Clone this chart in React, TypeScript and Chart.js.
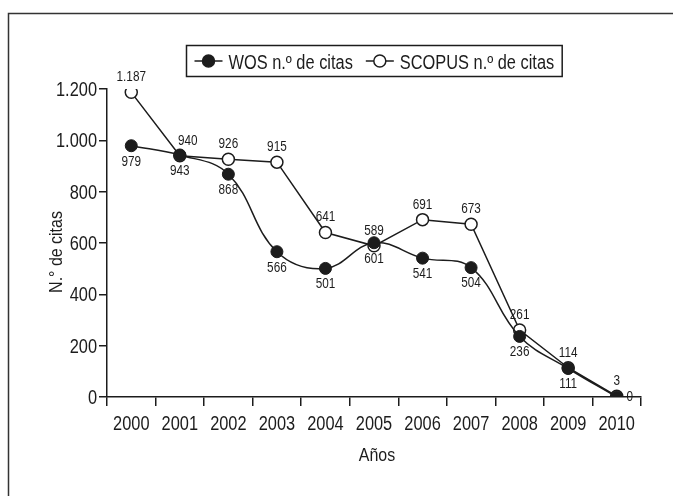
import React, { useEffect, useRef } from 'react';
import { Chart, registerables } from 'chart.js';

Chart.register(...registerables);

const years = ['2000', '2001', '2002', '2003', '2004', '2005', '2006', '2007', '2008', '2009', '2010'];
const wosCitations = [979, 943, 868, 566, 501, 601, 541, 504, 236, 111, 0];
const scopusCitations = [1187, 940, 926, 915, 641, 589, 691, 673, 261, 114, 3];
const yTickValues = [0, 200, 400, 600, 800, 1000, 1200];
const seriesNames = ['WOS n.º de citas', 'SCOPUS n.º de citas'];
const xTitle = 'Años';
const yTitle = 'N.° de citas';

const SANS = '"Liberation Sans", Arial, Helvetica, sans-serif';
const NARROW = 0.84;
const INK = '#1c1c1c';

const fmt = (v: number) => String(v).replace(/\B(?=(\d{3})+(?!\d))/g, '.');

function narrowText(
  ctx: CanvasRenderingContext2D,
  text: string,
  x: number,
  y: number,
  size: number,
  align: CanvasTextAlign,
  baseline: CanvasTextBaseline = 'alphabetic',
  rotate = 0
) {
  ctx.save();
  ctx.translate(x, y);
  if (rotate) ctx.rotate(rotate);
  ctx.scale(NARROW, 1);
  ctx.font = `${size}px ${SANS}`;
  ctx.fillStyle = INK;
  ctx.textAlign = align;
  ctx.textBaseline = baseline;
  ctx.fillText(text, 0, 0);
  ctx.restore();
}

function narrowWidth(ctx: CanvasRenderingContext2D, text: string, size: number) {
  ctx.save();
  ctx.font = `${size}px ${SANS}`;
  const w = ctx.measureText(text).width * NARROW;
  ctx.restore();
  return w;
}

const framePlugin = {
  id: 'frame',
  beforeDraw(chart: any) {
    const ctx = chart.ctx;
    ctx.save();
    ctx.fillStyle = '#ffffff';
    ctx.fillRect(0, 0, chart.width, chart.height);
    ctx.strokeStyle = '#333333';
    ctx.lineWidth = 1.5;
    ctx.beginPath();
    ctx.moveTo(8.5, chart.height + 5);
    ctx.lineTo(8.5, 13.5);
    ctx.lineTo(chart.width + 5, 13.5);
    ctx.stroke();
    ctx.restore();
  },
};

const axisTextPlugin = {
  id: 'axisText',
  afterDraw(chart: any) {
    const ctx = chart.ctx;
    const xs = chart.scales.x;
    const ys = chart.scales.y;
    const area = chart.chartArea;
    xs.ticks.forEach((_t: any, i: number) => {
      narrowText(ctx, String(chart.data.labels[i]), xs.getPixelForTick(i), area.bottom + 33, 19.5, 'center');
    });
    ys.ticks.forEach((t: any) => {
      const y = ys.getPixelForValue(t.value);
      narrowText(ctx, fmt(t.value), area.left - 10, y + 7, 19.5, 'right');
    });
    narrowText(ctx, xTitle, (area.left + area.right) / 2 + 3, 461, 19, 'center');
    narrowText(ctx, yTitle, 57, 252, 19, 'center', 'middle', -Math.PI / 2);
  },
};

const legendPlugin = {
  id: 'boxLegend',
  afterDraw(chart: any) {
    const ctx = chart.ctx;
    const area = chart.chartArea;
    const size = 19.5;
    const w1 = narrowWidth(ctx, seriesNames[0], size);
    const w2 = narrowWidth(ctx, seriesNames[1], size);
    const pad = 8, sym = 28, gap = 6, between = 13;
    const boxW = pad + sym + gap + w1 + between + sym + gap + w2 + pad;
    const boxH = 31;
    const cx = (area.left + area.right) / 2;
    const bx = Math.round(cx - boxW / 2) + 0.5;
    const by = 45.5;
    ctx.save();
    ctx.strokeStyle = INK;
    ctx.lineWidth = 1.5;
    ctx.strokeRect(bx, by, boxW, boxH);
    const cy = by + boxH / 2;
    const drawSym = (x: number, filled: boolean) => {
      ctx.beginPath();
      ctx.moveTo(x, cy);
      ctx.lineTo(x + sym, cy);
      ctx.lineWidth = 1.5;
      ctx.strokeStyle = INK;
      ctx.stroke();
      ctx.beginPath();
      ctx.arc(x + sym / 2, cy, 6, 0, Math.PI * 2);
      ctx.fillStyle = filled ? INK : '#ffffff';
      ctx.fill();
      ctx.stroke();
    };
    let x = bx + pad;
    drawSym(x, true);
    x += sym + gap;
    narrowText(ctx, seriesNames[0], x, 69, size, 'left');
    x += w1 + between;
    drawSym(x, false);
    x += sym + gap;
    narrowText(ctx, seriesNames[1], x, 69, size, 'left');
    ctx.restore();
  },
};

const labelPlugin = {
  id: 'pointLabels',
  afterDatasetsDraw(chart: any) {
    const ctx = chart.ctx;
    chart.data.datasets.forEach((ds: any, di: number) => {
      const meta = chart.getDatasetMeta(di);
      meta.data.forEach((pt: any, i: number) => {
        const v = ds.data[i] as number;
        let x = pt.x;
        let y = pt.y;
        if (di === 0) {
          if (i === ds.data.length - 1) {
            x += 13;
            y += 0;
          } else {
            y += 16;
          }
        } else {
          y -= 15;
          if (i === 1) x += 8;
        }
        narrowText(ctx, fmt(v), x, y, 14, 'center', 'middle');
      });
    });
  },
};

export default function App() {
  const ref = useRef<HTMLCanvasElement | null>(null);
  useEffect(() => {
    if (!ref.current) return;
    const chart = new Chart(ref.current, {
      type: 'line',
      data: {
        labels: years,
        datasets: [
          {
            label: seriesNames[0],
            data: wosCitations,
            borderColor: INK,
            borderWidth: 1.5,
            backgroundColor: INK,
            pointBackgroundColor: INK,
            pointBorderColor: INK,
            pointRadius: 6,
            pointBorderWidth: 1,
            tension: 0.4,
            cubicInterpolationMode: 'default',
          },
          {
            label: seriesNames[1],
            data: scopusCitations,
            borderColor: INK,
            borderWidth: 1.5,
            backgroundColor: '#ffffff',
            pointBackgroundColor: '#ffffff',
            pointBorderColor: INK,
            pointRadius: 6,
            pointBorderWidth: 1.5,
            tension: 0,
          },
        ],
      },
      options: {
        responsive: false,
        animation: false,
        layout: { padding: { left: 0, right: 32, top: 89, bottom: 0 } },
        plugins: { legend: { display: false }, tooltip: { enabled: false } },
        scales: {
          x: {
            offset: true,
            grid: { offset: true, drawOnChartArea: false, drawTicks: true, tickLength: 9, color: INK, lineWidth: 1.5 },
            border: { display: true, color: INK, width: 1.5 },
            ticks: { display: false, autoSkip: false, maxRotation: 0 },
            title: { display: false, text: xTitle },
            afterFit: (s: any) => { s.height = 99; },
          },
          y: {
            min: 0,
            max: 1200,
            afterBuildTicks: (s: any) => { s.ticks = yTickValues.map((v) => ({ value: v })); },
            ticks: { display: false },
            grid: { drawOnChartArea: false, drawTicks: true, tickLength: 8, color: INK, lineWidth: 1.5 },
            border: { display: true, color: INK, width: 1.5 },
            title: { display: false, text: yTitle },
            afterFit: (s: any) => { s.width = 107; },
          },
        },
      },
      plugins: [framePlugin, axisTextPlugin, legendPlugin, labelPlugin],
    } as any);
    return () => chart.destroy();
  }, []);
  return (
    <canvas
      ref={ref}
      width={673}
      height={496}
      style={{ position: 'absolute', left: 0, top: 0, width: 673, height: 496, display: 'block' }}
    />
  );
}
